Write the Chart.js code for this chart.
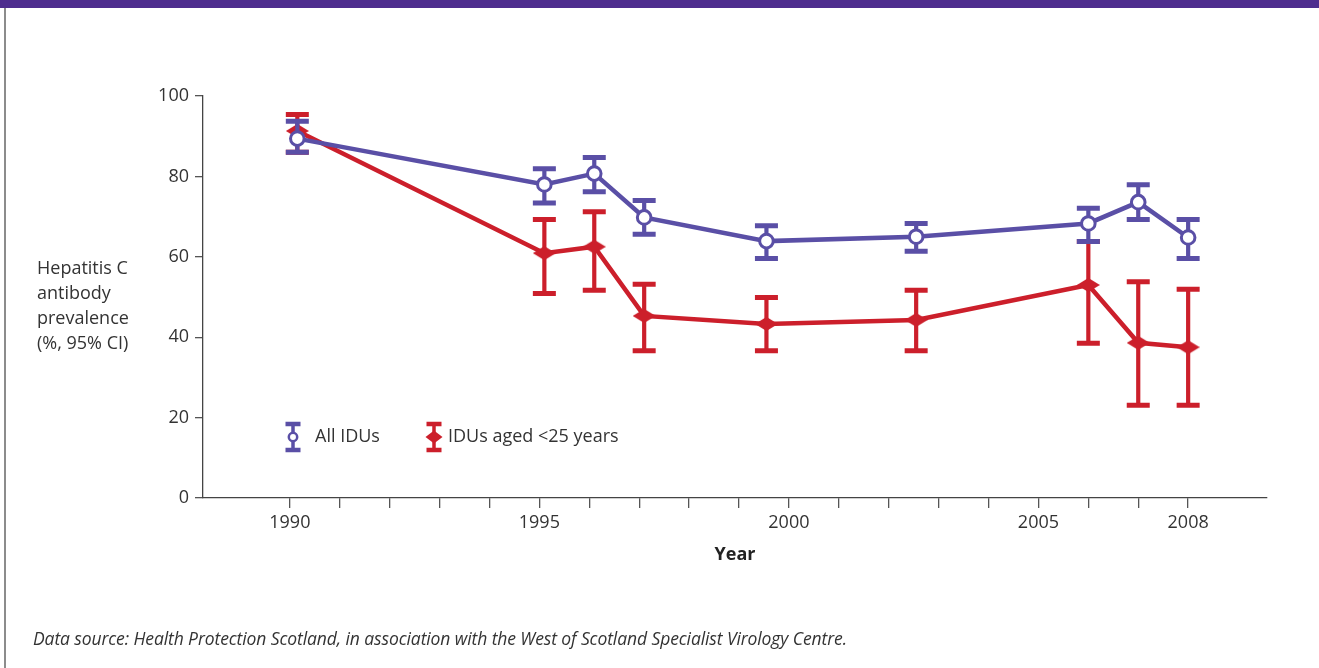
<!DOCTYPE html>
<html>
<head>
<meta charset="utf-8">
<script src="https://cdn.jsdelivr.net/npm/chart.js@4/dist/chart.umd.min.js"></script>
<style>
  html, body { margin: 0; padding: 0; background: #fff; }
  body { width: 1319px; height: 668px; position: relative; overflow: hidden; font-family: "Open Sans", sans-serif; }
  #band { position: absolute; left: 0; top: 0; width: 1319px; height: 8px; background: #4e2d8e; }
  #frame { position: absolute; left: 4px; top: 8px; width: 2px; height: 660px; background: #8c8c8c; }
  #chart { position: absolute; left: 0; top: 0; }
  #ytitle { position: absolute; left: 37px; top: 255px; font-size: 18px; line-height: 25px; color: #333; }
  #source { position: absolute; left: 33px; top: 626px; font-size: 17.5px; font-style: italic; color: #333; white-space: nowrap; letter-spacing: -0.1px; }
</style>
</head>
<body>
<div id="band"></div>
<div id="frame"></div>
<canvas id="chart" width="1319" height="668"></canvas>
<div id="ytitle">Hepatitis C<br>antibody<br>prevalence<br>(%, 95% CI)</div>
<div id="source">Data source: Health Protection Scotland, in association with the West of Scotland Specialist Virology Centre.</div>
<script>
// Survey time points (year position on the axis)
const surveyTime = [1990.15, 1995.1, 1996.1, 1997.1, 1999.55, 2002.55, 2006.0, 2007.0, 2008.0];

// All injecting drug users: prevalence and 95% CI
const allIDUs     = [89.4, 78.0, 80.7, 69.8, 63.9, 65.0, 68.3, 73.6, 64.8];
const allIDUsLow  = [86.0, 73.4, 76.2, 65.6, 59.6, 61.4, 63.8, 69.3, 59.6];
const allIDUsHigh = [93.7, 81.9, 84.7, 74.0, 67.7, 68.3, 72.1, 77.9, 69.3];

// Injecting drug users aged under 25: prevalence and 95% CI
const under25     = [91.3, 60.9, 62.5, 45.3, 43.3, 44.3, 53.0, 38.6, 37.5];
const under25Low  = [86.0, 50.9, 51.7, 36.6, 36.6, 36.6, 38.5, 23.1, 23.1];
const under25High = [95.4, 69.3, 71.2, 53.2, 49.9, 51.7, 63.8, 53.8, 51.9];

// Axis ticks
const tickYears = [1990, 1991, 1992, 1993, 1994, 1995, 1996, 1997, 1998, 1999,
                   2000, 2001, 2002, 2003, 2004, 2005, 2006, 2007, 2008];
const labelledYears = [1990, 1995, 2000, 2005, 2008];
const valueTicks = [0, 20, 40, 60, 80, 100];

const seriesNames = ['All IDUs', 'IDUs aged <25 years'];

const BLUE = '#5a4fa6';
const RED = '#cc1f2b';
const FONT = '"Open Sans", sans-serif';
const TEXT = '#333333';

// Flattened diamond marker for the under-25 series
function diamondImage(w, h, color) {
  const c = document.createElement('canvas');
  c.width = w; c.height = h;
  const g = c.getContext('2d');
  g.fillStyle = color;
  g.beginPath();
  g.moveTo(w / 2, 0);
  g.lineTo(w, h / 2);
  g.lineTo(w / 2, h);
  g.lineTo(0, h / 2);
  g.closePath();
  g.fill();
  return c;
}
const diamond = diamondImage(23, 14, RED);

function toPoints(xs, ys) {
  return xs.map((x, i) => ({ x: x, y: ys[i] }));
}

// Draws vertical 95% CI bars with caps underneath each dataset's line
const errorBars = {
  id: 'errorBars',
  beforeDatasetDraw(chart, args) {
    const ds = chart.data.datasets[args.index];
    if (!ds.ciLow) return;
    const yScale = chart.scales.y;
    const ctx = chart.ctx;
    ctx.save();
    ctx.strokeStyle = ds.borderColor;
    ctx.lineCap = 'butt';
    args.meta.data.forEach((pt, i) => {
      const x = pt.x;
      const yLo = yScale.getPixelForValue(ds.ciLow[i]);
      const yHi = yScale.getPixelForValue(ds.ciHigh[i]);
      ctx.lineWidth = 4.2;
      ctx.beginPath();
      ctx.moveTo(x, yLo); ctx.lineTo(x, yHi);
      ctx.stroke();
      ctx.lineWidth = 5;
      ctx.beginPath();
      ctx.moveTo(x - 11.5, yLo); ctx.lineTo(x + 11.5, yLo);
      ctx.moveTo(x - 11.5, yHi); ctx.lineTo(x + 11.5, yHi);
      ctx.stroke();
    });
    ctx.restore();
  }
};

// Legend drawn inside the plot, near the bottom-left
const innerLegend = {
  id: 'innerLegend',
  afterDraw(chart) {
    const ctx = chart.ctx;
    const area = chart.chartArea;
    const cy = area.bottom - 61;
    const items = [
      { x: area.left + 90, color: BLUE, kind: 'circle', text: seriesNames[0], gap: 22 },
      { x: area.left + 231, color: RED, kind: 'diamond', text: seriesNames[1], gap: 14 }
    ];
    ctx.save();
    items.forEach(it => {
      ctx.strokeStyle = it.color;
      ctx.lineWidth = 3.5;
      ctx.beginPath();
      ctx.moveTo(it.x, cy - 13); ctx.lineTo(it.x, cy + 13);
      ctx.stroke();
      ctx.lineWidth = 4.5;
      ctx.beginPath();
      ctx.moveTo(it.x - 7.5, cy - 13); ctx.lineTo(it.x + 7.5, cy - 13);
      ctx.moveTo(it.x - 7.5, cy + 13); ctx.lineTo(it.x + 7.5, cy + 13);
      ctx.stroke();
      if (it.kind === 'circle') {
        ctx.fillStyle = '#fff';
        ctx.lineWidth = 2.5;
        ctx.beginPath();
        ctx.arc(it.x, cy, 4.2, 0, Math.PI * 2);
        ctx.fill();
        ctx.stroke();
      } else {
        ctx.fillStyle = it.color;
        ctx.beginPath();
        ctx.moveTo(it.x, cy - 6.5);
        ctx.lineTo(it.x + 8.5, cy);
        ctx.lineTo(it.x, cy + 6.5);
        ctx.lineTo(it.x - 8.5, cy);
        ctx.closePath();
        ctx.fill();
      }
      ctx.fillStyle = TEXT;
      ctx.font = '18px ' + FONT;
      ctx.textAlign = 'left';
      ctx.textBaseline = 'middle';
      ctx.fillText(it.text, it.x + it.gap, cy);
    });
    ctx.restore();
  }
};

new Chart(document.getElementById('chart'), {
  type: 'line',
  data: {
    datasets: [
      {
        label: seriesNames[0],
        data: toPoints(surveyTime, allIDUs),
        ciLow: allIDUsLow,
        ciHigh: allIDUsHigh,
        borderColor: BLUE,
        borderWidth: 4.5,
        pointStyle: 'circle',
        pointRadius: 6.8,
        pointBorderWidth: 3,
        pointBackgroundColor: '#ffffff',
        pointBorderColor: BLUE,
        tension: 0,
        clip: false
      },
      {
        label: seriesNames[1],
        data: toPoints(surveyTime, under25),
        ciLow: under25Low,
        ciHigh: under25High,
        borderColor: RED,
        borderWidth: 4.5,
        pointStyle: diamond,
        pointRadius: 7,
        tension: 0,
        clip: false
      }
    ]
  },
  options: {
    responsive: false,
    animation: false,
    events: [],
    layout: { padding: { left: 143, right: 52, top: 96, bottom: 98 } },
    plugins: {
      legend: { display: false },
      tooltip: { enabled: false }
    },
    scales: {
      x: {
        type: 'linear',
        min: 1988.26,
        max: 2009.58,
        afterBuildTicks(scale) { scale.ticks = tickYears.map(v => ({ value: v })); },
        afterFit(scale) { scale.height = 72; },
        ticks: {
          autoSkip: false,
          maxRotation: 0,
          padding: 4,
          color: TEXT,
          font: { family: FONT, size: 18 },
          callback: (v) => labelledYears.includes(v) ? String(v) : ''
        },
        grid: { drawOnChartArea: false, drawTicks: true, tickLength: 10, color: '#555', lineWidth: 1.3 },
        border: { display: true, color: '#444', width: 1.3 },
        title: {
          display: true,
          text: 'Year',
          color: '#222',
          font: { family: FONT, size: 18, weight: 'bold' },
          padding: { top: 0, bottom: 4 }
        }
      },
      y: {
        min: 0,
        max: 100,
        afterBuildTicks(scale) { scale.ticks = valueTicks.map(v => ({ value: v })); },
        afterFit(scale) { scale.width = 60; },
        ticks: {
          padding: 6,
          color: TEXT,
          font: { family: FONT, size: 18 }
        },
        grid: { drawOnChartArea: false, drawTicks: true, tickLength: 8, color: '#555', lineWidth: 1.3 },
        border: { display: true, color: '#444', width: 1.3 }
      }
    }
  },
  plugins: [errorBars, innerLegend]
});
</script>
</body>
</html>
